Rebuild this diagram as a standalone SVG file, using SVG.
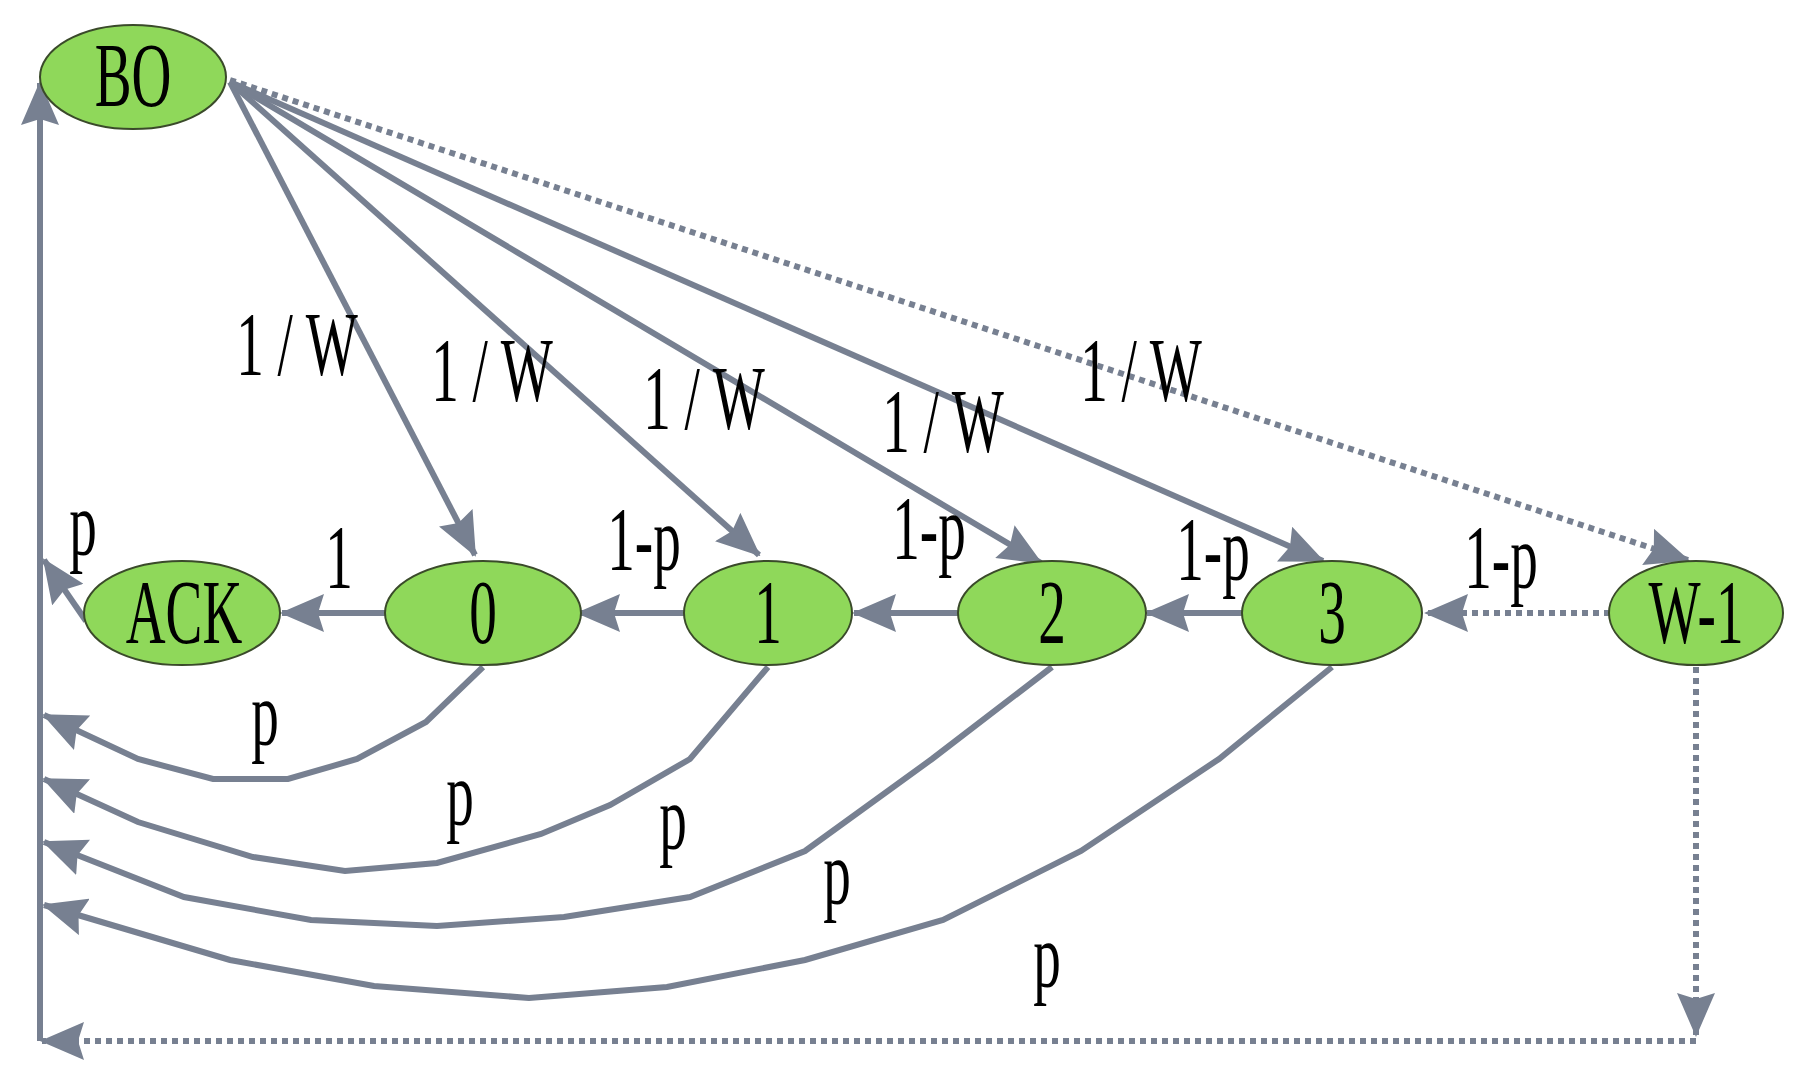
<svg xmlns="http://www.w3.org/2000/svg" width="1803" height="1091" viewBox="0 0 1803 1091">
<style>
.n{fill:#8fd85a;stroke:#3a4a2a;stroke-width:2}
.c{fill:none;stroke:#778091;stroke-width:6}
.d{stroke-dasharray:6 5}
.t{font-family:"Liberation Serif","Times New Roman",serif;font-size:92px;fill:#000;text-anchor:middle}
</style>
<defs>
<marker id="a" markerUnits="userSpaceOnUse" markerWidth="44" markerHeight="38" refX="42" refY="19" orient="auto"><path d="M0,0L44,19L0,38L6,19Z" fill="#778091"/></marker>
</defs>
<rect width="1803" height="1091" fill="#fff"/>
<g id="connectors">
<path class="c" d="M40,1041V83" marker-end="url(#a)"/>
<path class="c d" d="M1696,1041H42" marker-end="url(#a)"/>
<path class="c d" d="M1696,667V1035" marker-end="url(#a)"/>
<path class="c" d="M86,621L44,560" marker-end="url(#a)"/>
<path class="c" d="M230,82L475,555" marker-end="url(#a)"/>
<path class="c" d="M230,82L759,555" marker-end="url(#a)"/>
<path class="c" d="M230,82L1041,563" marker-end="url(#a)"/>
<path class="c" d="M230,82L1323,561" marker-end="url(#a)"/>
<path class="c d" d="M230,80L1688,560" marker-end="url(#a)"/>
<path class="c" d="M385,613H282" marker-end="url(#a)"/>
<path class="c" d="M684,613H578" marker-end="url(#a)"/>
<path class="c" d="M960,613H854" marker-end="url(#a)"/>
<path class="c" d="M1248,613H1147" marker-end="url(#a)"/>
<path class="c d" d="M1610,613H1426" marker-end="url(#a)"/>
<path class="c" d="M483,667L426,722L357,759L288,779L213,779L138,759L44,715" marker-end="url(#a)"/>
<path class="c" d="M768,667L690,759L610,805L541,834L437,863L345,871L253,857L138,822L44,779" marker-end="url(#a)"/>
<path class="c" d="M1052,667L932,759L805,851L690,897L564,917L437,926L311,920L184,897L44,842" marker-end="url(#a)"/>
<path class="c" d="M1332,667L1219,759L1081,851L943,920L805,960L667,987L529,998L374,986L230,960L44,905" marker-end="url(#a)"/>
</g>
<g id="BO"><ellipse class="n" cx="133" cy="77" rx="93" ry="52"/><text class="t" transform="translate(133,106) scale(0.6,1)">BO</text></g>
<g id="ACK"><ellipse class="n" cx="182" cy="613" rx="98" ry="52"/><text class="t" transform="translate(184,643) scale(0.6,1)">ACK</text></g>
<g id="s0"><ellipse class="n" cx="483" cy="613" rx="98" ry="52"/><text class="t" transform="translate(483,643) scale(0.6,1)">0</text></g>
<g id="s1"><ellipse class="n" cx="768" cy="613" rx="84" ry="52"/><text class="t" transform="translate(768,643) scale(0.6,1)">1</text></g>
<g id="s2"><ellipse class="n" cx="1052" cy="613" rx="94" ry="52"/><text class="t" transform="translate(1052,643) scale(0.6,1)">2</text></g>
<g id="s3"><ellipse class="n" cx="1332" cy="613" rx="90" ry="52"/><text class="t" transform="translate(1332,643) scale(0.6,1)">3</text></g>
<g id="sW"><ellipse class="n" cx="1696" cy="613" rx="87" ry="52"/><text class="t" transform="translate(1696,643) scale(0.6,1)">W-1</text></g>
<g id="labels">
<text class="t" transform="translate(297,375) scale(0.6,1)">1 / W</text>
<text class="t" transform="translate(492,401) scale(0.6,1)">1 / W</text>
<text class="t" transform="translate(704,429) scale(0.6,1)">1 / W</text>
<text class="t" transform="translate(943,452) scale(0.6,1)">1 / W</text>
<text class="t" transform="translate(1141,401) scale(0.6,1)">1 / W</text>
<text class="t" transform="translate(339,588) scale(0.6,1)">1</text>
<text class="t" transform="translate(644,570) scale(0.6,1)">1-p</text>
<text class="t" transform="translate(929,559) scale(0.6,1)">1-p</text>
<text class="t" transform="translate(1213,580) scale(0.6,1)">1-p</text>
<text class="t" transform="translate(1501,588) scale(0.6,1)">1-p</text>
<text class="t" transform="translate(83,555) scale(0.6,1)">p</text>
<text class="t" transform="translate(265,745) scale(0.6,1)">p</text>
<text class="t" transform="translate(460,825) scale(0.6,1)">p</text>
<text class="t" transform="translate(673,849) scale(0.6,1)">p</text>
<text class="t" transform="translate(837,904) scale(0.6,1)">p</text>
<text class="t" transform="translate(1047,987) scale(0.6,1)">p</text>
</g>
</svg>
